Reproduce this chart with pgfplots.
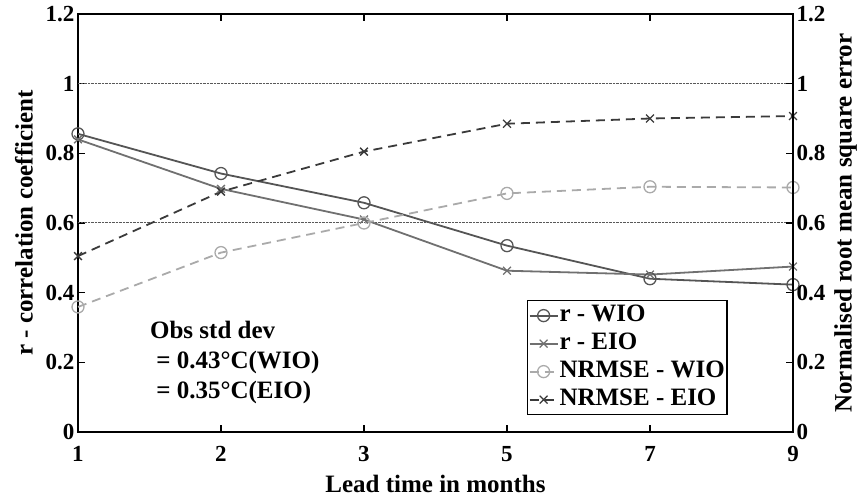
\documentclass[border=0pt]{standalone}
\usepackage{fontspec}
\setmainfont{Liberation Serif}
\usepackage{pgfplots}
\pgfplotsset{compat=1.18}
\definecolor{rwio}{HTML}{555555}
\definecolor{reio}{HTML}{707070}
\definecolor{nwio}{HTML}{AAAAAA}
\definecolor{neio}{HTML}{3A3A3A}
\newcommand{\bigf}{\bfseries\fontsize{25}{29}\selectfont}
\newcommand{\tickf}{\bfseries\fontsize{23}{27}\selectfont}
\begin{document}
\begin{tikzpicture}
\pgfplotsset{
  base/.style={
    at={(0pt,0pt)}, anchor=south west,
    width=715pt, height=418pt, scale only axis,
    xmin=0, xmax=5, ymin=0, ymax=1.2,
    ytick={0,0.2,0.4,0.6,0.8,1,1.2},
    tick align=inside,
    major tick length=7pt,
    axis line style={line width=1.6pt, black},
    every tick/.style={black, line width=1.4pt},
    tick label style={font=\tickf},
    label style={font=\bigf},
    /pgf/number format/assume math mode=true,
  }
}
\begin{axis}[base,
  xtick={0,1,2,3,4,5}, xticklabels={1,2,3,5,7,9},
  xticklabel style={yshift=-11pt},
  ytick pos=left,
  xlabel={Lead time in months},
  xlabel style={yshift=-6pt},
  ylabel={r - correlation coefficient},
  ylabel style={yshift=6pt},
  extra y ticks={0.6,1}, extra y tick labels={},
  extra y tick style={grid=major, major tick length=0pt},
  major grid style={densely dotted, line width=1pt, black!65},
  legend style={at={(0.628,0.316)}, anchor=north west, font=\bigf,
    draw=black, line width=1.4pt, inner sep=1pt, row sep=0pt,
    nodes={inner sep=1pt, text height=19pt, text depth=7pt},
    /tikz/every even column/.append style={column sep=0pt}},
  legend cell align=left,
  legend image code/.code={\draw[#1, mark repeat=2, mark phase=2] plot coordinates {(0pt,0pt)(14pt,0pt)(28pt,0pt)};},
]
\addplot[rwio, line width=1.8pt, mark=o, mark size=6pt, mark options={solid, line width=1.3pt}]
  coordinates {(0,0.856)(1,0.742)(2,0.658)(3,0.535)(4,0.440)(5,0.423)};
\addlegendentry{r - WIO}
\addplot[reio, line width=1.8pt, mark=x, mark size=5.5pt, mark options={solid, line width=1.3pt}]
  coordinates {(0,0.840)(1,0.698)(2,0.610)(3,0.463)(4,0.452)(5,0.475)};
\addlegendentry{r - EIO}
\addplot[nwio, line width=1.8pt, dash pattern=on 9pt off 6pt, mark=o, mark size=6pt, mark options={solid, line width=1.3pt}]
  coordinates {(0,0.359)(1,0.515)(2,0.600)(3,0.685)(4,0.704)(5,0.702)};
\addlegendentry{NRMSE - WIO}
\addplot[neio, line width=1.8pt, dash pattern=on 9pt off 6pt, mark=x, mark size=5.5pt, mark options={solid, line width=1.3pt}]
  coordinates {(0,0.505)(1,0.690)(2,0.805)(3,0.885)(4,0.900)(5,0.907)};
\addlegendentry{NRMSE - EIO}
\node[anchor=north west, align=left, inner sep=0pt, font=\bigf] at (axis cs:0.503,0.318)
  {Obs std dev\\[1pt] \ = 0.43°C(WIO)\\[1pt] \ = 0.35°C(EIO)};
\end{axis}
\begin{axis}[base,
  axis x line=none, axis y line*=right,
  ylabel={Normalised root mean square error},
  ylabel style={yshift=-2pt},
]
\end{axis}
\pgfresetboundingbox
\path[use as bounding box] (-78pt,-66pt) rectangle (782pt,432pt);
\end{tikzpicture}
\end{document}
